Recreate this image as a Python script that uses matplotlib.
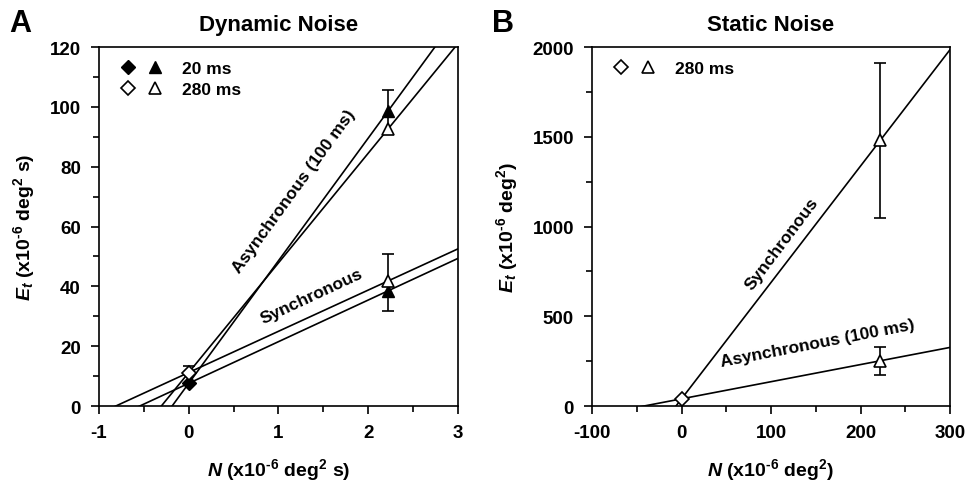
import numpy as np
import matplotlib
matplotlib.use('Agg')
import matplotlib.pyplot as plt
from matplotlib.legend_handler import HandlerTuple

plt.rcParams['font.family'] = ['Liberation Sans', 'DejaVu Sans']
plt.rcParams['font.weight'] = 'bold'
plt.rcParams['axes.unicode_minus'] = False
plt.rcParams['mathtext.fontset'] = 'custom'
plt.rcParams['mathtext.rm'] = 'Liberation Sans:bold'
plt.rcParams['mathtext.bf'] = 'Liberation Sans:bold'
plt.rcParams['mathtext.it'] = 'Liberation Sans:bold:italic'
plt.rcParams['mathtext.default'] = 'rm'

# === Panel A: dynamic noise (x10^-6 deg^2 s) ===
dyn_noise = [0.0, 2.22]
dyn_sync_20 = [7.6, 38.5]
dyn_sync_280 = [11.2, 41.8]
dyn_async_20 = [7.6, 98.6]
dyn_async_280 = [11.2, 92.6]
dyn_err_zero_280 = 2.1
dyn_err_sync_lo, dyn_err_sync_hi = 9.9, 9.0
dyn_err_async_lo, dyn_err_async_hi = 7.7, 7.0

# === Panel B: static noise (x10^-6 deg^2) ===
stat_noise = [0.0, 222.0]
stat_sync_280 = [40.0, 1480.0]
stat_async_280 = [40.0, 252.0]
stat_err_sync = 430.0
stat_err_async_lo, stat_err_async_hi = 80.0, 78.0

fig = plt.figure(figsize=(9.65, 4.85), dpi=100)
axA = fig.add_axes([0.1026, 0.1608, 0.372, 0.740])
axB = fig.add_axes([0.6135, 0.1608, 0.371, 0.740])

ms = 8
lw = 1.2


def fit_line(ax, x, y, xlim):
    slope, icpt = np.polyfit(x, y, 1)
    xs = np.array(xlim)
    ax.plot(xs, slope * xs + icpt, color='black', lw=lw, zorder=2)


def style_axes(ax, xlim, ylim, xmaj, xmin, ymaj, ymin):
    ax.set_xlim(xlim)
    ax.set_ylim(ylim)
    ax.set_xticks(xmaj)
    ax.set_xticks(xmin, minor=True)
    ax.set_yticks(ymaj)
    ax.set_yticks(ymin, minor=True)
    ax.tick_params(which='major', direction='out', length=6, width=1.2,
                   labelsize=13.5, pad=7)
    ax.tick_params(which='minor', direction='out', length=4, width=1.2)
    for lab in ax.get_xticklabels() + ax.get_yticklabels():
        lab.set_fontweight('bold')
    for sp in ax.spines.values():
        sp.set_linewidth(1.2)


def legend_tuple(ax, handles, labels):
    ax.legend(handles, labels,
              handler_map={tuple: HandlerTuple(ndivide=None, pad=0.9)},
              loc='upper left', bbox_to_anchor=(0.047, 0.982), frameon=False,
              handlelength=2.2, handletextpad=1.2, borderaxespad=0.0,
              labelspacing=0.35, prop={'weight': 'bold', 'size': 12.5})


exp6 = r'x10$^{\text{-6}}$'

# --- Panel A ---
xA = (-1, 3)
fit_line(axA, dyn_noise, dyn_sync_20, xA)
fit_line(axA, dyn_noise, dyn_sync_280, xA)
fit_line(axA, dyn_noise, dyn_async_20, xA)
fit_line(axA, dyn_noise, dyn_async_280, xA)

eb = dict(fmt='none', ecolor='black', elinewidth=1.2, capsize=4, capthick=1.2, zorder=3)
axA.errorbar(dyn_noise[0], dyn_sync_280[0], yerr=[[0], [dyn_err_zero_280]], **eb)
axA.errorbar(dyn_noise[1], dyn_sync_280[1], yerr=[[dyn_err_sync_lo], [dyn_err_sync_hi]], **eb)
axA.errorbar(dyn_noise[1], dyn_async_20[1], yerr=[[dyn_err_async_lo], [dyn_err_async_hi]], **eb)

h_d20, = axA.plot(dyn_noise[0], dyn_sync_20[0], 'D', ms=ms - 1, mfc='black', mec='black', zorder=4)
h_d280, = axA.plot(dyn_noise[0], dyn_sync_280[0], 'D', ms=ms - 1, mfc='white', mec='black', mew=1.2, zorder=4)
h_t20, = axA.plot([dyn_noise[1]] * 2, [dyn_sync_20[1], dyn_async_20[1]], '^', ms=ms + 1,
                  mfc='black', mec='black', ls='none', zorder=4)
h_t280, = axA.plot([dyn_noise[1]] * 2, [dyn_sync_280[1], dyn_async_280[1]], '^', ms=ms + 1,
                   mfc='white', mec='black', mew=1.2, ls='none', zorder=4)

legend_tuple(axA, [(h_d20, h_t20), (h_d280, h_t280)], ['20 ms', '280 ms'])

axA.text(1.17, 72, 'Asynchronous (100 ms)', rotation=54, fontsize=12.5,
         fontweight='bold', ha='center', va='center')
axA.text(1.37, 37, 'Synchronous', rotation=25, fontsize=12.5,
         fontweight='bold', ha='center', va='center')

style_axes(axA, xA, (0, 120), [-1, 0, 1, 2, 3], np.arange(-1, 3.01, 0.5),
           np.arange(0, 121, 20), np.arange(0, 121, 10))
axA.set_title('Dynamic Noise', fontsize=16, fontweight='bold', pad=12)
axA.set_xlabel(r'$\mathit{N}$ (' + exp6 + r' deg$^2$ s)', fontsize=14, fontweight='bold', labelpad=11)
axA.set_ylabel(r'$\mathit{E_t}$ (' + exp6 + r' deg$^2$ s)', fontsize=14, fontweight='bold', labelpad=9)
fig.text(0.010, 0.935, 'A', fontsize=22, fontweight='bold')

# --- Panel B ---
xB = (-100, 300)
fit_line(axB, stat_noise, stat_sync_280, xB)
fit_line(axB, stat_noise, stat_async_280, xB)

axB.errorbar(stat_noise[1], stat_sync_280[1], yerr=stat_err_sync, **eb)
axB.errorbar(stat_noise[1], stat_async_280[1], yerr=[[stat_err_async_lo], [stat_err_async_hi]], **eb)

hb_d, = axB.plot(stat_noise[0], stat_sync_280[0], 'D', ms=ms - 1, mfc='white', mec='black', mew=1.2, zorder=4)
hb_t, = axB.plot([stat_noise[1]] * 2, [stat_sync_280[1], stat_async_280[1]], '^', ms=ms + 1,
                 mfc='white', mec='black', mew=1.2, ls='none', zorder=4)

legend_tuple(axB, [(hb_d, hb_t)], ['280 ms'])

axB.text(112, 905, 'Synchronous', rotation=53, fontsize=12.5,
         fontweight='bold', ha='center', va='center')
axB.text(152, 350, 'Asynchronous (100 ms)', rotation=11, fontsize=12.5,
         fontweight='bold', ha='center', va='center')

style_axes(axB, xB, (0, 2000), np.arange(-100, 301, 100), np.arange(-100, 301, 50),
           np.arange(0, 2001, 500), np.arange(0, 2001, 250))
axB.set_title('Static Noise', fontsize=16, fontweight='bold', pad=12)
axB.set_xlabel(r'$\mathit{N}$ (' + exp6 + r' deg$^2$)', fontsize=14, fontweight='bold', labelpad=11)
axB.set_ylabel(r'$\mathit{E_t}$ (' + exp6 + r' deg$^2$)', fontsize=14, fontweight='bold', labelpad=9)
fig.text(0.510, 0.935, 'B', fontsize=22, fontweight='bold')

plt.savefig('out.png', dpi=100)
